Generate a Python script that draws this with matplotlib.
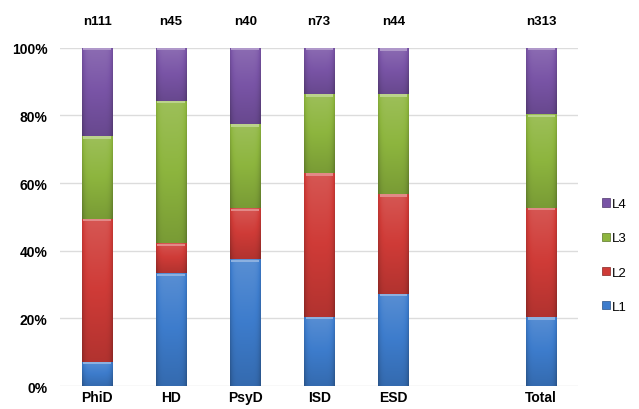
import numpy as np
import matplotlib
matplotlib.use("Agg")
import matplotlib.pyplot as plt
from matplotlib.patches import Patch
from matplotlib.colors import to_rgb

plt.rcParams['font.family'] = ['Liberation Sans', 'DejaVu Sans']

categories = ["PhiD", "HD", "PsyD", "ISD", "ESD", "", "Total"]
counts = ["n111", "n45", "n40", "n73", "n44", "", "n313"]
levels = ["L1", "L2", "L3", "L4"]
# share of each level per group (percent)
L1 = [7.2, 33.3, 37.5, 20.5, 27.3, 0, 20.4]
L2 = [42.3, 8.9, 15.0, 42.5, 29.5, 0, 32.3]
L3 = [24.4, 42.2, 25.0, 23.3, 29.5, 0, 27.6]
L4 = [26.1, 15.6, 22.5, 13.7, 13.6, 0, 19.7]
series = [L1, L2, L3, L4]
colors = ["#3d7ccc", "#cf3b37", "#8db53e", "#7954a6"]

fig = plt.figure(figsize=(6.39, 4.10), dpi=100)
ax = fig.add_axes([0.094, 0.056, 0.811, 0.825])

x = np.arange(len(categories))
width = 0.41
bottom = np.zeros(len(categories))


def shade(c, f):
    r = np.array(to_rgb(c))
    if f >= 0:
        return r + (1 - r) * f
    return r * (1 + f)


def segment_image(col, nrows=48, ncols=32):
    # lighter towards the top, darker towards the bottom and the side edges
    vy = np.linspace(-1, 1, nrows)[:, None]        # -1 bottom .. 1 top
    hx = np.abs(np.linspace(-1, 1, ncols))[None, :]
    f = 0.14 * vy - 0.18 * hx ** 6
    base = np.array(to_rgb(col))
    img = np.where(f[..., None] >= 0,
                   base + (1 - base) * f[..., None],
                   base * (1 + f[..., None]))
    return np.clip(img[::-1], 0, 1)


for vals, col in zip(series, colors):
    v = np.array(vals) / 100.0
    bars = ax.bar(x, v, width, bottom=bottom, color=col, zorder=3,
                  edgecolor=shade(col, -0.35), linewidth=0.4)
    for b, h in zip(bars, v):
        if h <= 0:
            continue
        x0, y0 = b.get_x(), b.get_y()
        w = b.get_width()
        im = ax.imshow(segment_image(col), extent=[x0, x0 + w, y0, y0 + h],
                       aspect='auto', zorder=3.5, interpolation='bilinear')
        im.set_clip_path(b)
        # light bevel along the top of each segment
        ax.bar(x0 + w / 2, 0.007, w * 0.9, bottom=y0 + h - 0.008,
               color=shade(col, 0.4), zorder=4, linewidth=0)
    bottom = bottom + v

ax.set_xlim(-0.5, 6.5)
ax.set_ylim(0, 1.0)
ax.set_yticks(np.linspace(0, 1, 6))
ax.set_yticklabels([f"{int(t*100)}%" for t in np.linspace(0, 1, 6)],
                   fontsize=10, fontweight='bold')
ax.set_xticks([i for i, c in enumerate(categories) if c])
ax.set_xticklabels([c for c in categories if c], fontsize=10, fontweight='bold')
ax.tick_params(length=0)
ax.tick_params(axis='y', pad=9)
ax.tick_params(axis='x', pad=3)
for s in ax.spines.values():
    s.set_visible(False)
ax.yaxis.grid(True, color="#dcdcdc", linewidth=1.0, zorder=0)
ax.set_axisbelow(True)

for xi, n in zip(x, counts):
    if n:
        ax.text(xi, 1.08, n, ha='center', va='center', fontsize=9.5,
                fontweight='bold', clip_on=False)

handles = [Patch(facecolor=c, edgecolor=shade(c, -0.35), linewidth=0.5)
           for c in colors][::-1]
leg = ax.legend(handles, levels[::-1], loc='center left',
                bbox_to_anchor=(1.035, 0.386), frameon=False, fontsize=9.5,
                handlelength=0.6, handleheight=0.6, handletextpad=0.15,
                labelspacing=1.68, borderaxespad=0)

fig.savefig("out.png", dpi=100)
